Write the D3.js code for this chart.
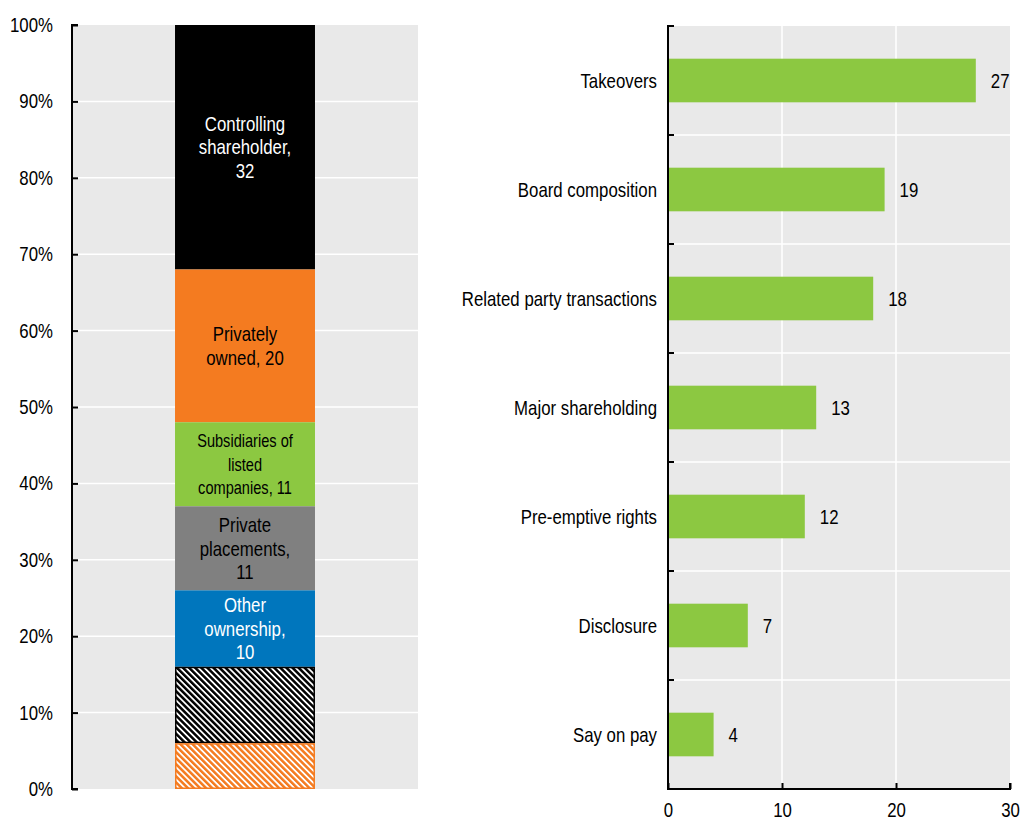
<!DOCTYPE html>
<html>
<head>
<meta charset="utf-8">
<script src="https://cdn.jsdelivr.net/npm/d3@7"></script>
<style>
  html, body { margin: 0; padding: 0; background: #fff; }
  svg { display: block; font-family: "Liberation Sans", Arial, sans-serif; }
</style>
</head>
<body>
<svg id="chart" width="1022" height="823"></svg>
<script>
// Left panel: composition of cases by ownership type (counts, total 100)
const ownershipLabels = [
  ["Controlling", "shareholder,", "32"],
  ["Privately", "owned, 20"],
  ["Subsidiaries of", "listed", "companies, 11"],
  ["Private", "placements,", "11"],
  ["Other", "ownership,", "10"],
  [],
  []
];
const ownershipValues = [32, 20, 11, 11, 10, 10, 6];
const ownershipFills = ["#000000", "#f47b20", "#8cc841", "#808080", "#0076bd", "url(#hatchBlack)", "url(#hatchOrange)"];
const ownershipStrokes = [null, null, null, null, null, "#000000", "#f47b20"];
const ownershipText = ["#ffffff", "#000000", "#000000", "#000000", "#ffffff", null, null];
const ownershipFontSize = [20.5, 20.5, 17.8, 20.5, 20.5, 20.5, 20.5];
const percentTicks = [0, 10, 20, 30, 40, 50, 60, 70, 80, 90, 100];

// Right panel: number of cases by topic
const topics = ["Takeovers", "Board composition", "Related party transactions", "Major shareholding", "Pre-emptive rights", "Disclosure", "Say on pay"];
const topicValues = [27, 19, 18, 13, 12, 7, 4];
const countTicks = [0, 10, 20, 30];

const svg = d3.select("#chart");
const bg = "#e9e9e9";
const fs = 20.5;
const squeeze = 0.82; // narrow-face look: horizontal compression of the text

// Compress text horizontally while keeping its anchor position
function condense(sel) {
  sel.each(function () {
    const t = d3.select(this);
    const x = +t.attr("x") || 0;
    t.attr("x", x / squeeze).attr("transform", `scale(${squeeze},1)`);
    t.selectAll("tspan").each(function () {
      const s = d3.select(this);
      const sx = +s.attr("x") || 0;
      s.attr("x", sx / squeeze);
    });
  });
}

// Hatch patterns
const defs = svg.append("defs");
function hatch(id, color) {
  const p = defs.append("pattern")
    .attr("id", id)
    .attr("patternUnits", "userSpaceOnUse")
    .attr("width", 4.3).attr("height", 4.3)
    .attr("patternTransform", "rotate(-45)");
  p.append("rect").attr("width", 4.3).attr("height", 4.3).attr("fill", "#ffffff");
  p.append("rect").attr("width", 2.5).attr("height", 4.3).attr("fill", color);
}
hatch("hatchBlack", "#000000");
hatch("hatchOrange", "#f47b20");

// ---------- Left panel ----------
const L = { left: 72, right: 418, top: 25, bottom: 789 };
const yL = d3.scaleLinear().domain([0, 100]).range([L.bottom, L.top]);
const xL = d3.scaleBand().domain(["all"]).range([L.left, L.right]).paddingInner(0).paddingOuter(0.736);

const gL = svg.append("g");
gL.append("rect").attr("x", L.left).attr("y", L.top)
  .attr("width", L.right - L.left).attr("height", L.bottom - L.top).attr("fill", bg);

gL.selectAll("line.grid").data(percentTicks.filter(d => d > 0 && d < 100)).join("line")
  .attr("class", "grid")
  .attr("x1", L.left).attr("x2", L.right)
  .attr("y1", d => yL(d)).attr("y2", d => yL(d))
  .attr("stroke", "#ffffff").attr("stroke-width", 1.5);

const stacked = [];
let acc = 100;
ownershipValues.forEach((v, i) => {
  stacked.push({ top: acc, bottom: acc - v, i });
  acc -= v;
});

const bw = xL.bandwidth();
const bx = xL("all");
gL.selectAll("rect.seg").data(stacked).join("rect")
  .attr("class", "seg")
  .attr("x", d => bx + (ownershipStrokes[d.i] ? 0.75 : 0))
  .attr("width", d => bw - (ownershipStrokes[d.i] ? 1.5 : 0))
  .attr("y", d => yL(d.top) + (ownershipStrokes[d.i] ? 0.75 : 0))
  .attr("height", d => yL(d.bottom) - yL(d.top) - (ownershipStrokes[d.i] ? 1.5 : 0))
  .attr("fill", d => ownershipFills[d.i])
  .attr("stroke", d => ownershipStrokes[d.i] || "none")
  .attr("stroke-width", 1.5);

stacked.forEach(d => {
  const lines = ownershipLabels[d.i];
  if (!lines.length) return;
  const cy = (yL(d.top) + yL(d.bottom)) / 2;
  const lh = 23.5;
  const t = gL.append("text")
    .attr("class", "seglabel")
    .attr("text-anchor", "middle")
    .attr("font-size", ownershipFontSize[d.i])
    .attr("fill", ownershipText[d.i]);
  lines.forEach((s, k) => {
    t.append("tspan")
      .attr("x", bx + bw / 2)
      .attr("y", cy + (k - (lines.length - 1) / 2) * lh)
      .attr("dy", "0.35em")
      .text(s);
  });
});
gL.selectAll("text.seglabel").call(condense);

const axL = gL.append("g").attr("transform", `translate(${L.left},0)`)
  .call(d3.axisLeft(yL).tickValues(percentTicks).tickFormat(d => d + "%").tickSize(-6).tickPadding(19));
axL.select(".domain").attr("d", `M6,${L.top}H0V${L.bottom}H6`).attr("stroke", "#000").attr("stroke-width", 2);
axL.selectAll(".tick line").attr("stroke", "#000").attr("stroke-width", 2);
axL.selectAll(".tick text").attr("font-size", fs).attr("fill", "#000").attr("font-family", null).call(condense);

// ---------- Right panel ----------
const R = { left: 668, right: 1010, top: 26, bottom: 789 };
const xR = d3.scaleLinear().domain([0, 30]).range([R.left, R.right]);
const yR = d3.scaleBand().domain(topics).range([R.top, R.bottom]).paddingInner(0.6).paddingOuter(0.3);
const step = yR.step();

const gR = svg.append("g");
gR.append("rect").attr("x", R.left).attr("y", R.top)
  .attr("width", R.right - R.left).attr("height", R.bottom - R.top).attr("fill", bg);

// vertical grid at count ticks
gR.selectAll("line.vgrid").data(countTicks.filter(d => d > 0 && d < 30)).join("line")
  .attr("class", "vgrid")
  .attr("x1", d => xR(d)).attr("x2", d => xR(d))
  .attr("y1", R.top).attr("y2", R.bottom)
  .attr("stroke", "#ffffff").attr("stroke-width", 1.5);

// horizontal grid at band boundaries
const boundaries = topics.slice(1).map(t => yR(t) - (step - yR.bandwidth()) / 2);
gR.selectAll("line.hgrid").data(boundaries).join("line")
  .attr("class", "hgrid")
  .attr("x1", R.left).attr("x2", R.right)
  .attr("y1", d => d).attr("y2", d => d)
  .attr("stroke", "#ffffff").attr("stroke-width", 1.5);

gR.selectAll("rect.bar").data(topics).join("rect")
  .attr("class", "bar")
  .attr("x", xR(0))
  .attr("y", d => yR(d))
  .attr("height", yR.bandwidth())
  .attr("width", (d, i) => xR(topicValues[i]) - xR(0))
  .attr("fill", "#8cc841");

gR.selectAll("text.val").data(topics).join("text")
  .attr("class", "val")
  .attr("x", (d, i) => xR(topicValues[i]) + 15)
  .attr("y", d => yR(d) + yR.bandwidth() / 2)
  .attr("dy", "0.35em")
  .attr("font-size", fs)
  .text((d, i) => topicValues[i])
  .call(condense);

gR.selectAll("text.cat").data(topics).join("text")
  .attr("class", "cat")
  .attr("x", R.left - 11)
  .attr("y", d => yR(d) + yR.bandwidth() / 2)
  .attr("dy", "0.35em")
  .attr("text-anchor", "end")
  .attr("font-size", fs)
  .text(d => d)
  .call(condense);

// left axis line with ticks at band boundaries
gR.append("path")
  .attr("d", `M${R.left + 6},${R.top}H${R.left}V${R.bottom}`)
  .attr("fill", "none").attr("stroke", "#000").attr("stroke-width", 2);
gR.selectAll("line.ytick").data(boundaries).join("line")
  .attr("class", "ytick")
  .attr("x1", R.left).attr("x2", R.left + 6)
  .attr("y1", d => d).attr("y2", d => d)
  .attr("stroke", "#000").attr("stroke-width", 2);

const axR = gR.append("g").attr("transform", `translate(0,${R.bottom})`)
  .call(d3.axisBottom(xR).tickValues(countTicks).tickFormat(d3.format("d")).tickSize(-6).tickPadding(13));
axR.select(".domain").attr("d", `M${R.left},${-6}V0H${R.right}V-6`).attr("stroke", "#000").attr("stroke-width", 2);
axR.selectAll(".tick line").attr("stroke", "#000").attr("stroke-width", 2);
axR.selectAll(".tick text").attr("font-size", fs).attr("fill", "#000").attr("font-family", null).call(condense);
</script>
</body>
</html>
